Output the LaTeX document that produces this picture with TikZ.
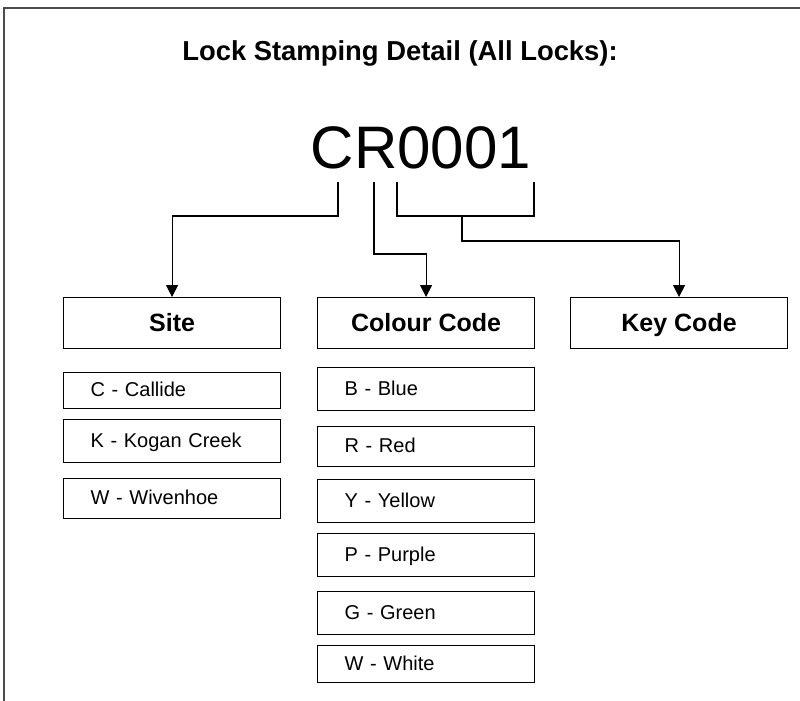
\documentclass[tikz,border=0pt]{standalone}
\usepackage{fontspec}
\setmainfont{Liberation Sans}
\usetikzlibrary{arrows.meta}

\begin{document}
\begin{tikzpicture}[
            x = 1pt, y = -1pt, % pixel units, y going down
            > = {Triangle[width=12pt, length=12pt]}, % arrow head style
            line width = 1.1pt, % line style
            header/.style = {
                draw, anchor = north west,
                minimum width = 217pt, minimum height = 51pt,
                inner sep = 0pt, text height = 22pt, text depth = 5pt,
                font = \fontsize{25}{30}\selectfont\bfseries
            },
            item/.style = {
                draw, anchor = north west,
                text width = 163pt, inner xsep = 27pt, inner ysep = 0pt,
                text height = 16pt, text depth = 4pt,
                minimum height = #1, align = left,
                font = \fontsize{20}{24}\selectfont
            }
        ]

        \useasboundingbox (0,0) rectangle (800,701);
        \draw[black!70] (4,701) -- (4,8) -- (800,8);

        \node[anchor=base, font=\fontsize{27.4}{33}\selectfont\bfseries] (title) at (400,61) {Lock Stamping Detail (All Locks):};
        \node[anchor=base, inner sep=0pt, font=\fontsize{60}{72}\selectfont] (stamp) at (421,168) {CR0001};

        \node[header] (site) at (63,297) {Site};
        \node[header] (colour) at (317,297) {Colour Code};
        \node[header] (keycode) at (570,297) {Key Code};

        \node[item=36pt] (siteC) at (63,372) {C - Callide};
        \node[item=43pt] (siteK) at (63,419) {K - Kogan Creek};
        \node[item=40pt] (siteW) at (63,478) {W - Wivenhoe};

        \node[item=43pt] (colB) at (317,367) {B - Blue};
        \node[item=40pt] (colR) at (317,426) {R - Red};
        \node[item=43pt] (colY) at (317,479) {Y - Yellow};
        \node[item=43pt] (colP) at (317,533) {P - Purple};
        \node[item=43pt] (colG) at (317,591) {G - Green};
        \node[item=37pt] (colW) at (317,645) {W - White};

        % points under the stamp letters
        \coordinate (underC) at (338,182);
        \coordinate (underR) at (374,182);
        \coordinate (underKa) at (397,182);
        \coordinate (underKb) at (534,182);
        \coordinate (keyjoin) at (462,216);

        \draw[->] (underC) -- ++(0,34) -| (site.north);
        \draw[->] (underR) -- ++(0,72) -| (colour.north);
        \draw (underKa) |- (keyjoin) -| (underKb);
        \draw[->] (keyjoin) -- ++(0,25) -| (keycode.north);

    \end{tikzpicture}
\end{document}
